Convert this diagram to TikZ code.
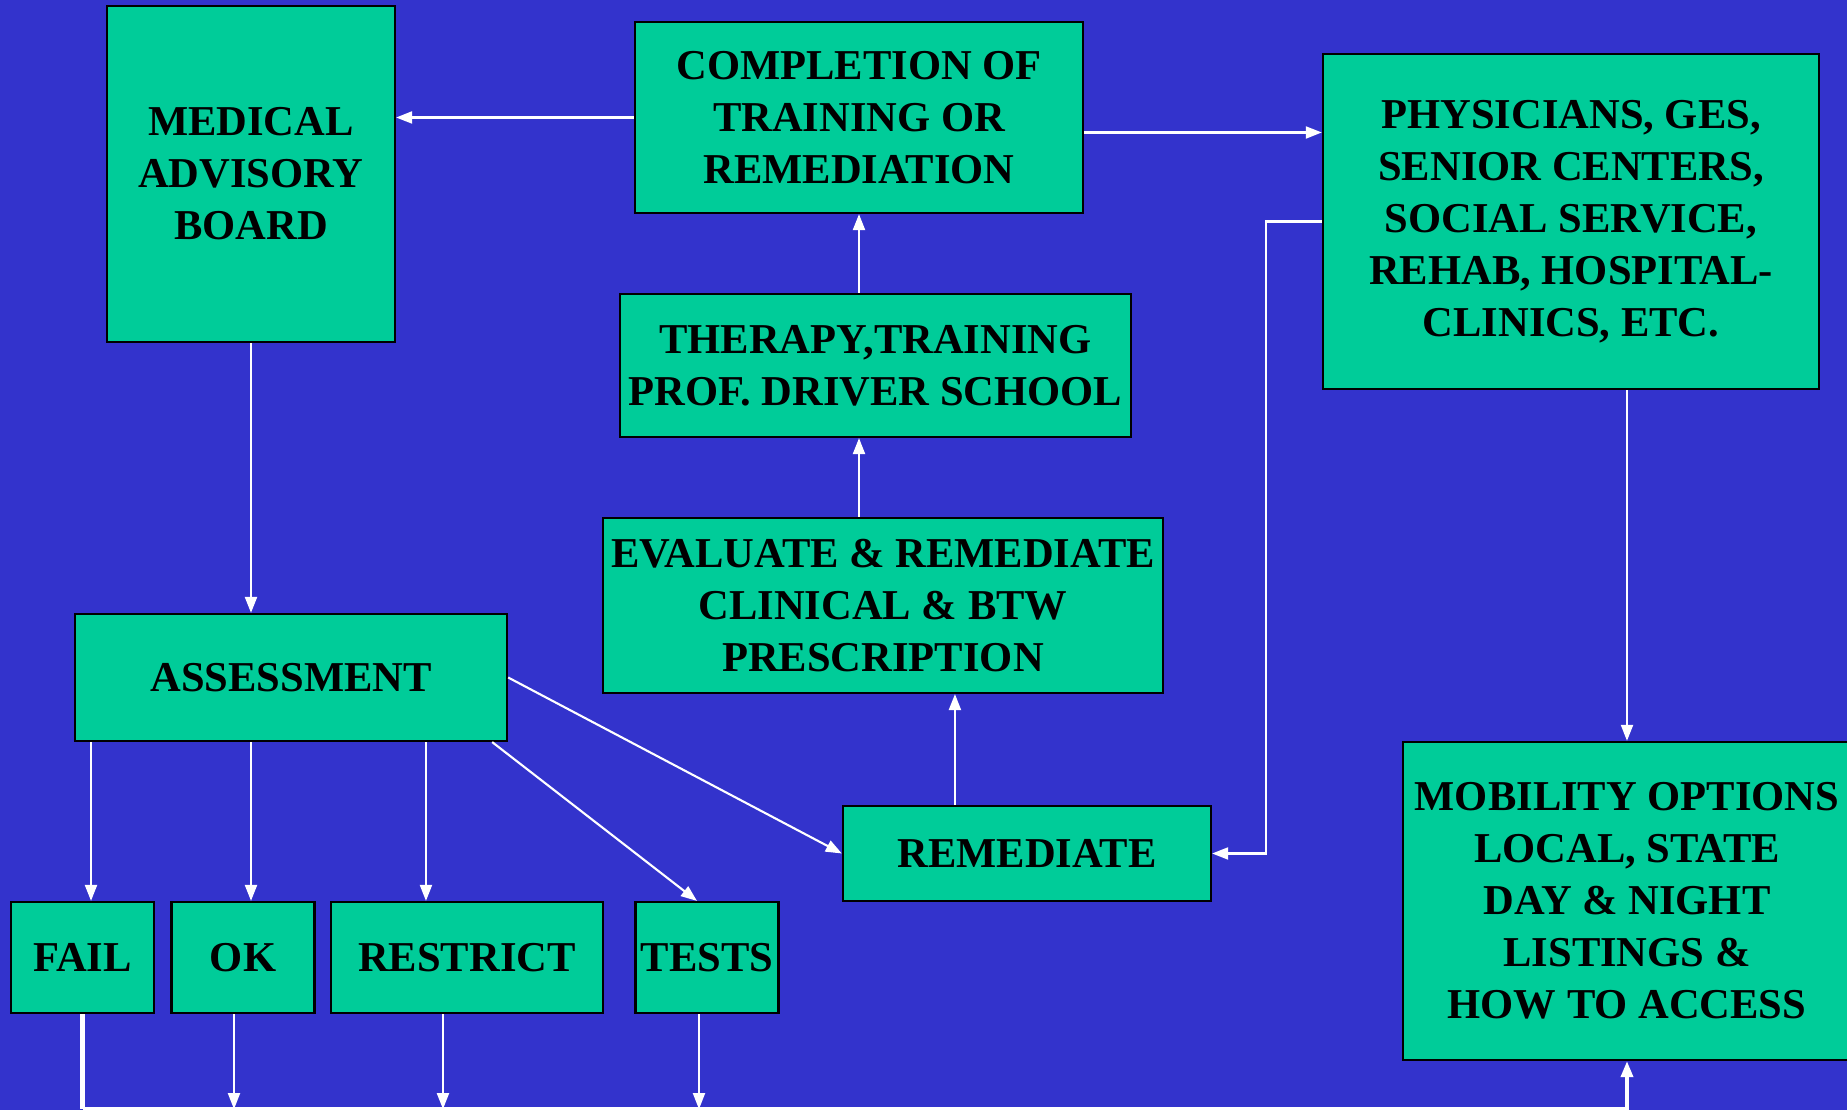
\documentclass[tikz,border=0pt]{standalone}
\usepackage{fontspec}
\setmainfont{Liberation Serif}
\usetikzlibrary{arrows.meta,positioning,calc}
\definecolor{bgblue}{RGB}{51,51,204}
\definecolor{boxgreen}{RGB}{0,204,153}

\begin{document}
\begin{tikzpicture}[
    x=0.01cm, y=-0.01cm,
    box/.style={rectangle, draw=black, line width=0.6pt, fill=boxgreen, align=center, inner sep=0pt,
        font=\bfseries\fontsize{12.1}{14.8}\selectfont},
    arrow/.style={-{Triangle[length=0.16cm,width=0.12cm]}, white, line width=0.6pt},
    bus/.style={white, line width=1.3pt}
]
    \useasboundingbox (0,0) rectangle (1847,1110);
    \clip (0,0) rectangle (1847,1110);
    \fill[bgblue] (0,0) rectangle (1847,1110);

    % top row
    \node[box, minimum width=2.88cm, minimum height=3.36cm] (mab) at (251,174) {MEDICAL\\ADVISORY\\BOARD};
    \node[box, minimum width=4.48cm, minimum height=1.91cm] (compl) at (859,117.5) {COMPLETION OF\\TRAINING OR\\REMEDIATION};
    \node[box, minimum width=4.96cm, minimum height=3.35cm] (phys) at (1571,221.5) {PHYSICIANS, GES,\\SENIOR CENTERS,\\SOCIAL SERVICE,\\REHAB, HOSPITAL-\\CLINICS, ETC.};

    % middle column
    \node[box, minimum width=5.11cm, minimum height=1.43cm] (therapy) at (875.5,365.5) {THERAPY,TRAINING\\PROF. DRIVER SCHOOL};
    \node[box, minimum width=5.60cm, minimum height=1.75cm] (evalr) at (883,605.5) {EVALUATE \& REMEDIATE\\CLINICAL \& BTW\\PRESCRIPTION};
    \node[box, minimum width=3.68cm, minimum height=0.95cm] (remed) at (1027,853.5) {REMEDIATE};

    % assessment and outcomes
    \node[box, minimum width=4.32cm, minimum height=1.27cm] (assess) at (291,677.5) {ASSESSMENT};
    \node[box, minimum width=1.43cm, minimum height=1.11cm] (fail) at (82.5,957.5) {FAIL};
    \node[box, minimum width=1.43cm, minimum height=1.11cm] (ok) at (243,957.5) {OK};
    \node[box, minimum width=2.71cm, minimum height=1.11cm] (restrict) at (467,957.5) {RESTRICT};
    \node[box, minimum width=1.43cm, minimum height=1.11cm] (tests) at (707,957.5) {TESTS};

    \node[box, minimum width=4.48cm, minimum height=3.18cm] (mobil) at (1627,901) {MOBILITY OPTIONS\\LOCAL, STATE\\DAY \& NIGHT\\LISTINGS \&\\HOW TO ACCESS};

    % connectors
    \draw[arrow] (compl.west) -- (compl.west -| mab.east);
    \draw[arrow] ($(compl.east)+(0,15)$) coordinate (c1) -- (c1 -| phys.west);
    \draw[arrow] (compl.south |- therapy.north) -- (compl.south);
    \draw[arrow] (compl.south |- evalr.north) -- (compl.south |- therapy.south);
    \draw[arrow] ([xshift=-0.72cm]remed.north) -- ([xshift=-0.72cm]remed.north |- evalr.south);
    \draw[arrow] (phys.west) -- ++(-56,0) |- (remed.east);
    \draw[arrow] (mobil.north |- phys.south) -- (mobil.north);
    \draw[arrow] (mab.south) -- (mab.south |- assess.north);

    \draw[arrow] ([xshift=0.085cm]fail.north |- assess.south) -- ([xshift=0.085cm]fail.north);
    \draw[arrow] (mab.south |- assess.south) -- (mab.south |- ok.north);
    \draw[arrow] ([xshift=-0.41cm]restrict.north |- assess.south) -- ([xshift=-0.41cm]restrict.north);
    \draw[arrow] ([xshift=-0.16cm]assess.south east) -- ([xshift=-0.1cm]tests.north);
    \draw[arrow] (assess.east) -- (remed.west);

    % bottom line
    \draw[bus] (fail.south) -- ++(0,95) coordinate (b0);
    \draw[arrow, line width=1pt] (b0) -| (mobil.south);
    \draw[arrow] ([xshift=-0.09cm]ok.south) -- ([xshift=-0.09cm]ok.south |- b0);
    \draw[arrow] ([xshift=-0.24cm]restrict.south) -- ([xshift=-0.24cm]restrict.south |- b0);
    \draw[arrow] ([xshift=-0.08cm]tests.south) -- ([xshift=-0.08cm]tests.south |- b0);
\end{tikzpicture}
\end{document}
